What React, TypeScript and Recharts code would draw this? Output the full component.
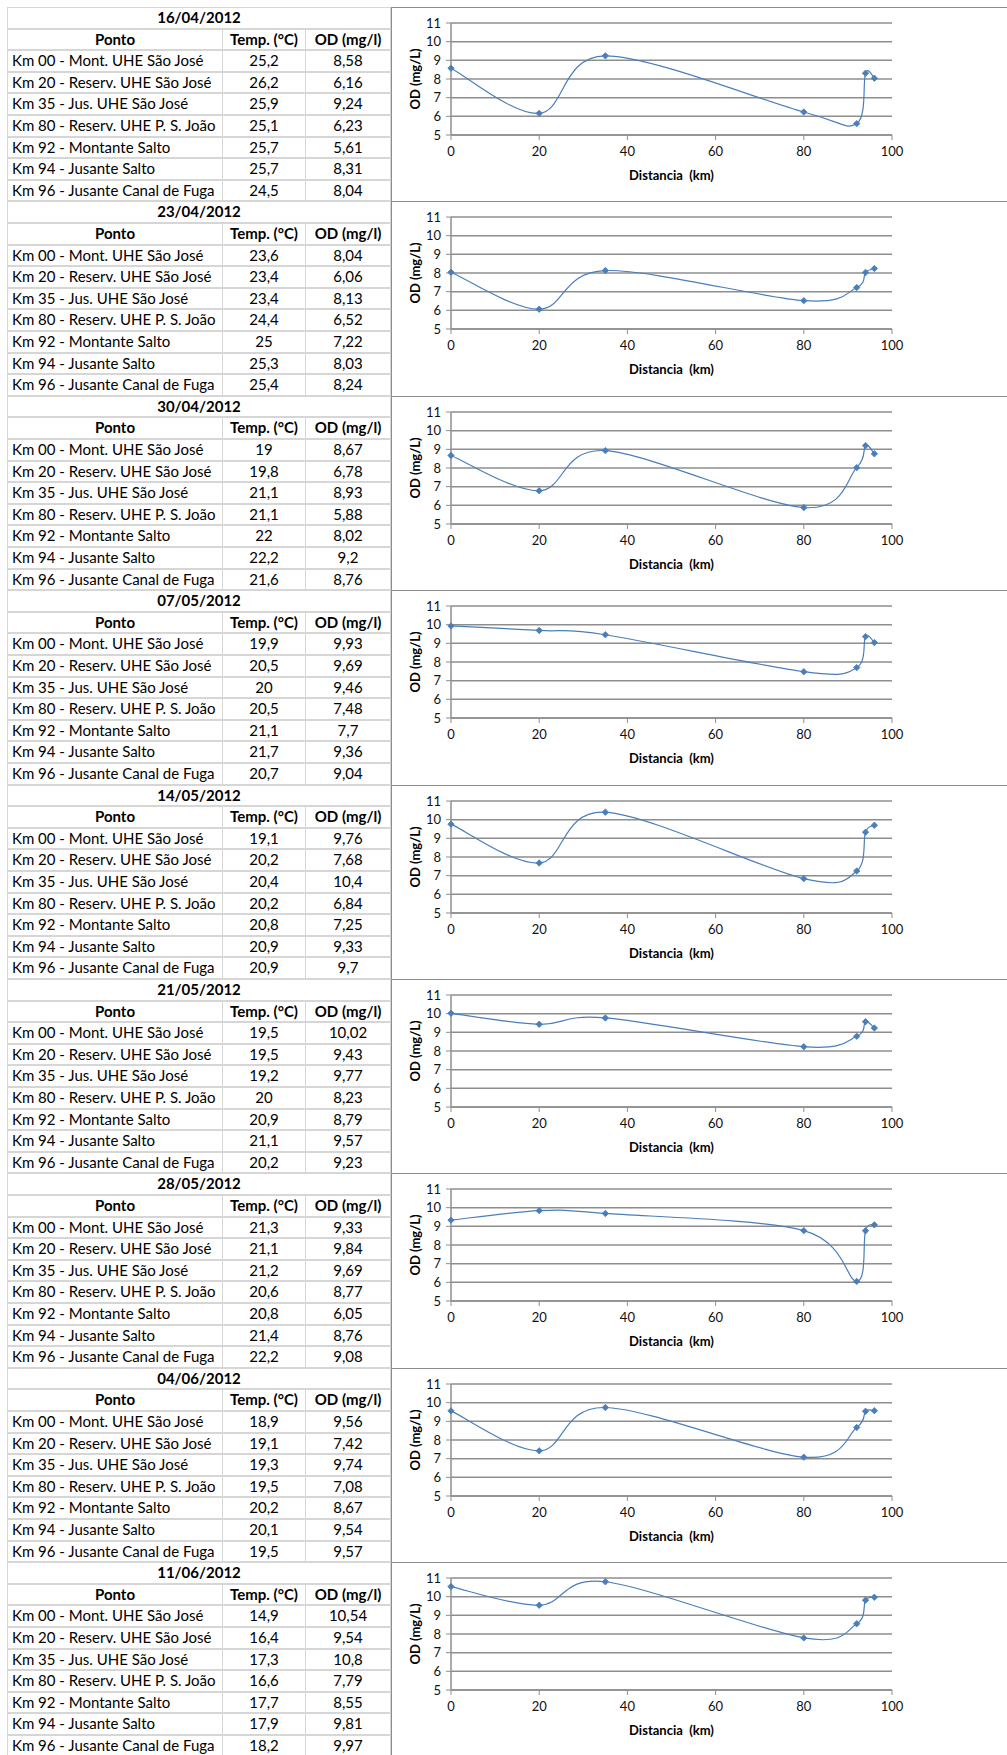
import React from 'react';
import { LineChart, Line, XAxis, YAxis, CartesianGrid } from 'recharts';

const POINTS = [
  'Km 00 - Mont. UHE São José',
  'Km 20 - Reserv. UHE São José',
  'Km 35 - Jus. UHE São José',
  'Km 80 - Reserv. UHE P. S. João',
  'Km 92 - Montante Salto',
  'Km 94 - Jusante Salto',
  'Km 96 - Jusante Canal de Fuga',
];
const KM = [0, 20, 35, 80, 92, 94, 96];
const DATES = ['16/04/2012', '23/04/2012', '30/04/2012', '07/05/2012', '14/05/2012', '21/05/2012', '28/05/2012', '04/06/2012', '11/06/2012'];

const TEMP_1604 = [25.2, 26.2, 25.9, 25.1, 25.7, 25.7, 24.5];
const OD_1604 = [8.58, 6.16, 9.24, 6.23, 5.61, 8.31, 8.04];
const TEMP_2304 = [23.6, 23.4, 23.4, 24.4, 25, 25.3, 25.4];
const OD_2304 = [8.04, 6.06, 8.13, 6.52, 7.22, 8.03, 8.24];
const TEMP_3004 = [19, 19.8, 21.1, 21.1, 22, 22.2, 21.6];
const OD_3004 = [8.67, 6.78, 8.93, 5.88, 8.02, 9.2, 8.76];
const TEMP_0705 = [19.9, 20.5, 20, 20.5, 21.1, 21.7, 20.7];
const OD_0705 = [9.93, 9.69, 9.46, 7.48, 7.7, 9.36, 9.04];
const TEMP_1405 = [19.1, 20.2, 20.4, 20.2, 20.8, 20.9, 20.9];
const OD_1405 = [9.76, 7.68, 10.4, 6.84, 7.25, 9.33, 9.7];
const TEMP_2105 = [19.5, 19.5, 19.2, 20, 20.9, 21.1, 20.2];
const OD_2105 = [10.02, 9.43, 9.77, 8.23, 8.79, 9.57, 9.23];
const TEMP_2805 = [21.3, 21.1, 21.2, 20.6, 20.8, 21.4, 22.2];
const OD_2805 = [9.33, 9.84, 9.69, 8.77, 6.05, 8.76, 9.08];
const TEMP_0406 = [18.9, 19.1, 19.3, 19.5, 20.2, 20.1, 19.5];
const OD_0406 = [9.56, 7.42, 9.74, 7.08, 8.67, 9.54, 9.57];
const TEMP_1106 = [14.9, 16.4, 17.3, 16.6, 17.7, 17.9, 18.2];
const OD_1106 = [10.54, 9.54, 10.8, 7.79, 8.55, 9.81, 9.97];

const X_TICKS = [0, 20, 40, 60, 80, 100];
const Y_TICKS = [5, 6, 7, 8, 9, 10, 11];

const TEMPS = [TEMP_1604, TEMP_2304, TEMP_3004, TEMP_0705, TEMP_1405, TEMP_2105, TEMP_2805, TEMP_0406, TEMP_1106];
const ODS = [OD_1604, OD_2304, OD_3004, OD_0705, OD_1405, OD_2105, OD_2805, OD_0406, OD_1106];

const TOP = 7;
const ROW_H = 21.6;
const BLOCK_H = ROW_H * 9;
const FONT = 'Lato, "Open Sans", sans-serif';
const CELL_BORDER = '#d6d6d6';
const LINE_COLOR = '#4a7ebb';

const fmt = (v: number) => String(v).replace('.', ',');

// Excel-like smoothed curve (Catmull-Rom / cardinal, tension 0)
function excelCurve(context: any) {
  let pts: number[][] = [];
  return {
    areaStart() {},
    areaEnd() {},
    lineStart() {
      pts = [];
    },
    point(x: number, y: number) {
      pts.push([+x, +y]);
    },
    lineEnd() {
      const n = pts.length;
      if (!n) return;
      context.moveTo(pts[0][0], pts[0][1]);
      for (let i = 0; i < n - 1; i++) {
        const p0 = pts[i - 1] || pts[i];
        const p1 = pts[i];
        const p2 = pts[i + 1];
        const p3 = pts[i + 2] || pts[i + 1];
        const c1x = p1[0] + (p2[0] - p0[0]) / 6;
        const c1y = p1[1] + (p2[1] - p0[1]) / 6;
        const c2x = p2[0] - (p3[0] - p1[0]) / 6;
        const c2y = p2[1] - (p3[1] - p1[1]) / 6;
        context.bezierCurveTo(c1x, c1y, c2x, c2y, p2[0], p2[1]);
      }
    },
  };
}

const Diamond = (props: any) => {
  const { cx, cy, index } = props;
  if (cx == null || cy == null) return <g key={index} />;
  const r = 3.2;
  return (
    <path
      key={index}
      d={`M${cx},${cy - r}L${cx + r},${cy}L${cx},${cy + r}L${cx - r},${cy}Z`}
      fill={LINE_COLOR}
      stroke={LINE_COLOR}
      strokeWidth={0.8}
    />
  );
};

const YTitle = (props: any) => {
  const vb = props.viewBox || { x: 0, y: 16, width: 61, height: 112 };
  const x = vb.x + 25;
  const y = vb.y + vb.height / 2;
  return (
    <text
      x={x}
      y={y}
      transform={`rotate(-90 ${x} ${y})`}
      textAnchor="middle"
      dominantBaseline="central"
      fontFamily={FONT}
      fontWeight={700}
      fontSize={13}
      fill="#000"
    >
      OD (mg/L)
    </text>
  );
};

const XTitle = (props: any) => {
  const vb = props.viewBox || { x: 61, y: 128, width: 441, height: 66 };
  return (
    <text
      x={vb.x + vb.width / 2}
      y={vb.y + 40}
      textAnchor="middle"
      dominantBaseline="central"
      fontFamily={FONT}
      fontWeight={700}
      fontSize={13}
      fill="#000"
      style={{ whiteSpace: 'pre' }}
    >
      {'Distancia  (km)'}
    </text>
  );
};

const COL_X = [7, 222, 305, 390];

function Cell({ left, width, top, children, bold, align }: any) {
  return (
    <div
      style={{
        position: 'absolute',
        left,
        top,
        width,
        height: ROW_H,
        boxSizing: 'border-box',
        border: `1px solid ${CELL_BORDER}`,
        marginLeft: 0,
        lineHeight: `${ROW_H - 2}px`,
        fontSize: 15,
        fontFamily: FONT,
        fontWeight: bold ? 700 : 400,
        textAlign: align || 'center',
        paddingLeft: align === 'left' ? 4 : 0,
        whiteSpace: 'nowrap',
        overflow: 'hidden',
        color: '#000',
      }}
    >
      {children}
    </div>
  );
}

function Block({ idx }: { idx: number }) {
  const top = TOP + idx * BLOCK_H;
  const temp = TEMPS[idx];
  const od = ODS[idx];
  const data = KM.map((k, i) => ({ km: k, od: od[i] }));
  const cells: any[] = [];
  cells.push(
    <Cell key="t" left={COL_X[0]} width={COL_X[3] - COL_X[0] + 1} top={top} bold>
      {DATES[idx]}
    </Cell>
  );
  const headers = ['Ponto', 'Temp. (°C)', 'OD (mg/l)'];
  headers.forEach((h, c) => {
    cells.push(
      <Cell key={'h' + c} left={COL_X[c]} width={COL_X[c + 1] - COL_X[c] + 1} top={top + ROW_H} bold>
        {h}
      </Cell>
    );
  });
  POINTS.forEach((p, r) => {
    const rt = top + ROW_H * (r + 2);
    cells.push(
      <Cell key={'p' + r} left={COL_X[0]} width={COL_X[1] - COL_X[0] + 1} top={rt} align="left">
        {p}
      </Cell>
    );
    cells.push(
      <Cell key={'t' + r} left={COL_X[1]} width={COL_X[2] - COL_X[1] + 1} top={rt}>
        {fmt(temp[r])}
      </Cell>
    );
    cells.push(
      <Cell key={'o' + r} left={COL_X[2]} width={COL_X[3] - COL_X[2] + 1} top={rt}>
        {fmt(od[r])}
      </Cell>
    );
  });
  return (
    <>
      {cells}
      <div
        style={{
          position: 'absolute',
          left: 391,
          top,
          width: 640,
          height: BLOCK_H + 1,
          boxSizing: 'border-box',
          border: '1.5px solid #8c8c8c',
          background: '#fff',
        }}
      />
      <div style={{ position: 'absolute', left: 390, top, width: 617, height: 194 }}>
        <LineChart width={617} height={194} data={data} margin={{ top: 16, right: 115, bottom: 0, left: 0 }}>
          <CartesianGrid vertical={false} horizontal stroke="#8e8e8e" strokeWidth={1.5} />
          <XAxis
            type="number"
            dataKey="km"
            domain={[0, 100]}
            ticks={X_TICKS}
            interval={0}
            height={66}
            tickSize={5}
            tickMargin={7}
            axisLine={{ stroke: '#8e8e8e', strokeWidth: 1.5 }}
            tickLine={{ stroke: '#8e8e8e', strokeWidth: 1 }}
            tick={{ fontFamily: FONT, fontSize: 13, fill: '#111' }}
            label={{ content: XTitle }}
          />
          <YAxis
            type="number"
            domain={[5, 11]}
            ticks={Y_TICKS}
            interval={0}
            width={61}
            tickSize={5}
            tickMargin={5}
            axisLine={{ stroke: '#8e8e8e', strokeWidth: 1.5 }}
            tickLine={{ stroke: '#8e8e8e', strokeWidth: 1 }}
            tick={{ fontFamily: FONT, fontSize: 13, fill: '#111' }}
            label={{ content: YTitle }}
          />
          <Line
            dataKey="od"
            type={excelCurve as any}
            stroke={LINE_COLOR}
            strokeWidth={1.2}
            dot={Diamond}
            activeDot={false}
            isAnimationActive={false}
          />
        </LineChart>
      </div>
    </>
  );
}

export default function App() {
  return (
    <div
      style={{
        position: 'absolute',
        left: 0,
        top: 0,
        width: 1007,
        height: 1755,
        overflow: 'hidden',
        background: '#fff',
      }}
    >
      {DATES.map((d, i) => (
        <Block key={d} idx={i} />
      ))}
    </div>
  );
}
